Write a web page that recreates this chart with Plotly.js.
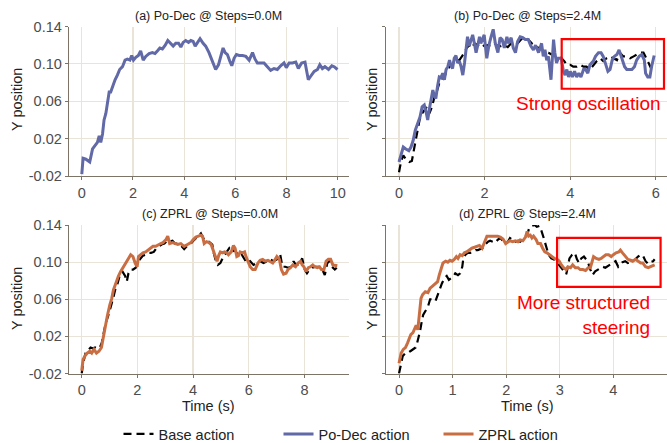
<!DOCTYPE html>
<html>
<head>
<meta charset="utf-8">
<script src="https://cdn.plot.ly/plotly-3.0.1.min.js"></script>
<style>html,body{margin:0;padding:0;background:#fff;}#chart{width:667px;height:443px;}</style>
</head>
<body>
<div id="chart"></div>
<script>
// ---------- (a) Po-Dec @ Steps=0.0M ----------
const aTime = [0,0.05,0.16,0.31,0.42,0.52,0.61,0.68,0.74,0.81,0.87,0.94,1.0,1.07,1.13,1.2,1.3,1.39,1.48,1.59,1.69,1.78,1.88,1.95,2.02,2.11,2.21,2.3,2.4,2.5,2.63,2.76,2.86,2.96,3.05,3.15,3.26,3.36,3.48,3.57,3.67,3.78,3.87,3.96,4.06,4.17,4.26,4.35,4.43,4.53,4.62,4.74,4.84,4.97,5.1,5.23,5.34,5.43,5.52,5.6,5.69,5.78,5.86,5.95,6.04,6.15,6.28,6.41,6.54,6.67,6.77,6.86,6.99,7.12,7.25,7.38,7.51,7.64,7.77,7.9,7.99,8.1,8.23,8.36,8.46,8.59,8.72,8.78,8.85,8.95,9.08,9.21,9.3,9.4,9.5,9.64,9.77,9.86,9.99];
const aPoDec = [-0.018,-0.001,-0.002,-0.005,0.009,0.013,0.016,0.023,0.016,0.025,0.040,0.047,0.058,0.070,0.070,0.076,0.083,0.088,0.094,0.097,0.104,0.105,0.104,0.109,0.104,0.107,0.109,0.114,0.104,0.108,0.111,0.112,0.111,0.114,0.117,0.116,0.120,0.125,0.122,0.119,0.122,0.122,0.118,0.123,0.125,0.123,0.125,0.124,0.119,0.123,0.127,0.122,0.119,0.112,0.103,0.094,0.099,0.108,0.117,0.112,0.110,0.103,0.098,0.106,0.110,0.109,0.109,0.108,0.104,0.112,0.105,0.101,0.101,0.101,0.097,0.093,0.095,0.094,0.098,0.101,0.096,0.101,0.101,0.102,0.095,0.101,0.102,0.094,0.083,0.087,0.092,0.094,0.099,0.095,0.097,0.094,0.098,0.097,0.094];

// ---------- (b) Po-Dec @ Steps=2.4M ----------
const bTimePoDec = [0,0.05,0.10,0.16,0.23,0.28,0.33,0.38,0.44,0.49,0.54,0.59,0.63,0.67,0.71,0.75,0.79,0.83,0.86,0.90,0.94,0.98,1.02,1.06,1.10,1.14,1.18,1.21,1.25,1.29,1.33,1.37,1.41,1.45,1.49,1.53,1.57,1.60,1.64,1.68,1.72,1.76,1.80,1.84,1.88,1.91,1.95,1.99,2.05,2.10,2.15,2.20,2.25,2.31,2.36,2.41,2.46,2.52,2.56,2.62,2.67,2.72,2.77,2.83,2.89,2.95,3.02,3.08,3.14,3.19,3.26,3.30,3.33,3.37,3.41,3.45,3.49,3.55,3.61,3.64,3.68,3.72,3.79,3.84,3.88,3.92,3.96,4.00,4.05,4.10,4.15,4.20,4.25,4.31,4.36,4.41,4.46,4.54,4.59,4.66,4.72,4.77,4.83,4.88,4.93,4.98,5.03,5.09,5.14,5.20,5.27,5.32,5.38,5.44,5.50,5.55,5.61,5.67,5.73,5.76,5.81,5.86,5.90,5.96];
const bPoDec = [-0.005,0.004,0.011,0.009,0.007,0.011,0.018,0.029,0.038,0.043,0.054,0.056,0.049,0.040,0.052,0.061,0.072,0.065,0.063,0.076,0.086,0.085,0.090,0.083,0.094,0.097,0.104,0.099,0.095,0.106,0.109,0.101,0.103,0.097,0.088,0.101,0.117,0.129,0.119,0.126,0.131,0.122,0.112,0.120,0.129,0.122,0.126,0.131,0.106,0.120,0.129,0.137,0.122,0.112,0.128,0.126,0.117,0.129,0.122,0.128,0.117,0.112,0.124,0.129,0.128,0.126,0.126,0.119,0.115,0.120,0.112,0.119,0.122,0.108,0.115,0.104,0.108,0.083,0.126,0.112,0.101,0.106,0.106,0.092,0.088,0.094,0.086,0.092,0.086,0.092,0.086,0.090,0.086,0.094,0.094,0.090,0.099,0.103,0.108,0.112,0.112,0.108,0.099,0.092,0.094,0.104,0.108,0.110,0.115,0.106,0.097,0.094,0.094,0.094,0.097,0.104,0.108,0.110,0.104,0.090,0.086,0.086,0.097,0.109];
const bTimeBase = [0,0.05,0.10,0.16,0.24,0.30,0.36,0.41,0.48,0.54,0.59,0.65,0.71,0.77,0.83,0.88,0.94,1.00,1.06,1.11,1.18,1.24,1.29,1.35,1.41,1.47,1.53,1.58,1.64,1.71,1.76,1.84,1.92,1.99,2.07,2.15,2.23,2.31,2.38,2.46,2.54,2.62,2.69,2.77,2.85,2.93,3.02,3.10,3.18,3.26,3.33,3.41,3.49,3.57,3.64,3.72,3.80,3.86,3.92,4.00,4.07,4.15,4.23,4.31,4.38,4.46,4.54,4.62,4.70,4.77,4.85,4.93,5.01,5.09,5.16,5.24,5.32,5.40,5.48,5.55,5.63,5.71,5.76,5.83,5.89];
const bBase = [-0.016,-0.004,0.002,-0.002,-0.005,-0.004,0.011,0.025,0.040,0.047,0.050,0.054,0.047,0.054,0.065,0.070,0.079,0.081,0.086,0.092,0.097,0.099,0.103,0.104,0.104,0.108,0.112,0.117,0.120,0.117,0.122,0.120,0.122,0.119,0.120,0.119,0.122,0.119,0.119,0.120,0.118,0.122,0.120,0.122,0.126,0.128,0.126,0.122,0.119,0.117,0.115,0.113,0.112,0.110,0.110,0.108,0.106,0.103,0.099,0.099,0.097,0.097,0.099,0.097,0.097,0.094,0.099,0.103,0.106,0.103,0.106,0.108,0.106,0.104,0.112,0.108,0.108,0.106,0.108,0.110,0.112,0.112,0.108,0.101,0.095];

// ---------- (c) ZPRL @ Steps=0.0M ----------
const cTimeZprl = [0,0.05,0.12,0.20,0.29,0.36,0.44,0.53,0.62,0.71,0.77,0.84,0.92,1.01,1.08,1.14,1.22,1.32,1.40,1.49,1.58,1.68,1.76,1.84,1.92,1.99,2.04,2.12,2.20,2.30,2.40,2.48,2.56,2.66,2.75,2.84,2.92,3.02,3.09,3.16,3.26,3.35,3.45,3.56,3.68,3.80,3.92,4.00,4.10,4.19,4.28,4.34,4.40,4.48,4.57,4.65,4.74,4.80,4.86,4.92,4.98,5.06,5.13,5.21,5.27,5.37,5.45,5.51,5.57,5.63,5.69,5.78,5.85,5.90,5.97,6.05,6.14,6.23,6.33,6.41,6.50,6.59,6.69,6.77,6.86,6.95,7.01,7.10,7.17,7.25,7.34,7.41,7.50,7.58,7.68,7.77,7.86,7.92,7.98,8.06,8.14,8.22,8.30,8.37,8.46,8.54,8.61,8.70,8.78,8.86,8.94,9.02,9.11,9.18];
const cZprl = [-0.017,-0.005,-0.001,0.002,0.004,0.002,0.006,0.002,0.004,0.008,0.018,0.031,0.042,0.054,0.061,0.070,0.077,0.085,0.090,0.095,0.099,0.104,0.108,0.106,0.099,0.095,0.106,0.108,0.110,0.111,0.113,0.115,0.117,0.117,0.119,0.120,0.121,0.124,0.128,0.120,0.121,0.120,0.119,0.120,0.117,0.119,0.121,0.124,0.127,0.128,0.129,0.128,0.120,0.122,0.121,0.119,0.111,0.104,0.101,0.107,0.111,0.110,0.111,0.110,0.108,0.111,0.118,0.115,0.106,0.107,0.111,0.110,0.111,0.106,0.101,0.095,0.092,0.092,0.099,0.102,0.103,0.101,0.102,0.101,0.099,0.103,0.106,0.103,0.092,0.087,0.088,0.092,0.094,0.097,0.095,0.099,0.101,0.097,0.095,0.090,0.094,0.095,0.097,0.095,0.094,0.095,0.092,0.092,0.101,0.103,0.103,0.097,0.096,0.096];
const cTimeBase = [0,0.05,0.14,0.24,0.32,0.41,0.48,0.56,0.65,0.72,0.78,0.86,0.95,1.04,1.13,1.20,1.28,1.37,1.46,1.56,1.62,1.68,1.76,1.84,1.94,2.04,2.12,2.20,2.30,2.40,2.49,2.59,2.68,2.78,2.87,2.97,3.07,3.16,3.26,3.35,3.45,3.56,3.68,3.80,3.92,4.04,4.16,4.28,4.36,4.46,4.57,4.69,4.74,4.82,4.89,4.98,5.06,5.13,5.21,5.30,5.39,5.49,5.57,5.66,5.75,5.85,5.93,6.05,6.17,6.29,6.41,6.53,6.65,6.77,6.89,7.01,7.13,7.21,7.31,7.41,7.53,7.61,7.69,7.79,7.92,8.01,8.09,8.18,8.28,8.40,8.52,8.64,8.73,8.82,8.90,8.99,9.09,9.16];
const cBase = [-0.020,-0.009,0.002,0.006,0.008,0.007,0.008,0.007,0.008,0.013,0.022,0.034,0.042,0.051,0.061,0.070,0.076,0.086,0.090,0.085,0.079,0.088,0.092,0.092,0.094,0.101,0.104,0.107,0.108,0.110,0.110,0.111,0.115,0.117,0.119,0.120,0.123,0.122,0.123,0.120,0.120,0.118,0.114,0.118,0.120,0.124,0.128,0.131,0.126,0.123,0.122,0.119,0.110,0.101,0.097,0.099,0.104,0.108,0.111,0.115,0.111,0.113,0.110,0.106,0.108,0.103,0.099,0.101,0.097,0.099,0.101,0.099,0.101,0.103,0.101,0.103,0.108,0.095,0.095,0.094,0.095,0.101,0.097,0.097,0.104,0.092,0.088,0.092,0.094,0.095,0.095,0.092,0.086,0.099,0.101,0.095,0.092,0.094];

// ---------- (d) ZPRL @ Steps=2.4M ----------
const dTimeZprl = [0,0.04,0.08,0.12,0.16,0.19,0.22,0.26,0.29,0.32,0.35,0.38,0.41,0.44,0.49,0.54,0.58,0.62,0.66,0.69,0.72,0.75,0.79,0.82,0.87,0.91,0.95,0.99,1.03,1.07,1.10,1.14,1.18,1.22,1.26,1.31,1.36,1.41,1.45,1.50,1.55,1.60,1.64,1.69,1.74,1.79,1.84,1.89,1.94,1.99,2.03,2.07,2.12,2.17,2.22,2.26,2.31,2.36,2.39,2.42,2.45,2.48,2.51,2.56,2.59,2.64,2.68,2.72,2.76,2.80,2.85,2.90,2.95,2.99,3.03,3.07,3.12,3.15,3.20,3.24,3.29,3.34,3.38,3.43,3.48,3.53,3.57,3.60,3.63,3.68,3.73,3.77,3.82,3.86,3.91,3.96,4.00,4.05,4.10,4.13,4.17,4.22,4.27,4.32,4.36,4.41,4.46,4.51,4.55,4.60,4.65,4.69,4.74,4.77];
const dZprl = [-0.009,0.002,0.006,0.008,0.013,0.018,0.022,0.024,0.029,0.032,0.027,0.049,0.061,0.065,0.068,0.067,0.072,0.074,0.076,0.078,0.079,0.086,0.094,0.099,0.101,0.100,0.102,0.101,0.103,0.106,0.104,0.108,0.107,0.110,0.111,0.113,0.115,0.116,0.117,0.118,0.115,0.122,0.128,0.128,0.128,0.128,0.128,0.127,0.125,0.120,0.122,0.123,0.122,0.123,0.122,0.124,0.123,0.127,0.133,0.128,0.129,0.126,0.128,0.124,0.120,0.120,0.115,0.111,0.110,0.108,0.106,0.104,0.103,0.101,0.097,0.094,0.092,0.095,0.094,0.097,0.094,0.094,0.092,0.092,0.091,0.094,0.094,0.099,0.106,0.104,0.103,0.104,0.106,0.108,0.108,0.106,0.108,0.110,0.111,0.113,0.110,0.106,0.103,0.102,0.101,0.103,0.101,0.099,0.099,0.095,0.094,0.095,0.096,0.097];
const dTimeBase = [0,0.03,0.07,0.12,0.16,0.21,0.26,0.31,0.33,0.36,0.39,0.43,0.45,0.49,0.54,0.58,0.63,0.68,0.72,0.77,0.80,0.85,0.89,0.93,0.97,1.02,1.05,1.10,1.14,1.18,1.20,1.24,1.28,1.33,1.38,1.43,1.47,1.51,1.56,1.61,1.66,1.70,1.75,1.80,1.84,1.89,1.94,1.99,2.03,2.07,2.12,2.17,2.22,2.26,2.31,2.36,2.40,2.43,2.48,2.53,2.57,2.62,2.65,2.70,2.73,2.76,2.79,2.84,2.89,2.93,2.98,3.03,3.07,3.12,3.15,3.18,3.23,3.28,3.32,3.36,3.40,3.45,3.49,3.53,3.57,3.61,3.66,3.71,3.76,3.80,3.85,3.90,3.94,3.99,4.04,4.09,4.13,4.17,4.22,4.27,4.32,4.36,4.41,4.46,4.51,4.55,4.60,4.65,4.69,4.74,4.77];
const dBase = [-0.020,-0.012,-0.001,0.002,0.002,0.004,0.006,0.008,0.011,0.017,0.025,0.038,0.043,0.047,0.052,0.060,0.060,0.058,0.065,0.072,0.077,0.083,0.085,0.081,0.083,0.085,0.088,0.086,0.088,0.095,0.104,0.108,0.110,0.110,0.111,0.113,0.113,0.114,0.115,0.119,0.122,0.123,0.122,0.121,0.124,0.126,0.123,0.120,0.122,0.126,0.124,0.122,0.123,0.122,0.124,0.128,0.131,0.137,0.139,0.140,0.138,0.139,0.135,0.126,0.119,0.113,0.108,0.104,0.103,0.101,0.097,0.094,0.090,0.087,0.095,0.104,0.108,0.110,0.103,0.099,0.104,0.106,0.103,0.099,0.092,0.086,0.090,0.092,0.094,0.095,0.094,0.096,0.097,0.099,0.101,0.095,0.097,0.100,0.101,0.099,0.100,0.101,0.103,0.106,0.108,0.107,0.101,0.098,0.100,0.101,0.103];

// ---------- labels ----------
const panelTitles = ["(a) Po-Dec @ Steps=0.0M", "(b) Po-Dec @ Steps=2.4M", "(c) ZPRL @ Steps=0.0M", "(d) ZPRL @ Steps=2.4M"];
const seriesNames = ["Base action", "Po-Dec action", "ZPRL action"];
const yTickVals = [-0.02, 0.02, 0.06, 0.10, 0.14];
const yTickText = ["-0.02", "0.02", "0.06", "0.10", "0.14"];
const xLabel = "Time (s)";
const yLabel = "Y position";
const note1 = "Strong oscillation";
const note2 = "More structured<br>steering";

const W = 667, H = 443;
const FONT = "Liberation Sans, Arial, sans-serif";
const BLUE = "#6169a7", ORANGE = "#c96e43", BLACK = "#000000";
const AXC = "#7d7468", GRIDC = "#e9e3d8", TICKC = "#4d4d4d";
const DASH = "8px,5px";

const px = v => v / W;
const py = v => 1 - v / H;

function line(x, y, name, color, xa, ya, dash, show, width) {
  return {x: x, y: y, name: name, type: "scatter", mode: "lines", xaxis: xa, yaxis: ya,
    line: {color: color, width: width, dash: dash || "solid"}, showlegend: show, hoverinfo: "skip"};
}

const traces = [
  line(bTimeBase, bBase, seriesNames[0], BLACK, "x2", "y2", DASH, true, 2.2),
  line(aTime, aPoDec, seriesNames[1], BLUE, "x", "y", null, true, 3),
  line(bTimePoDec, bPoDec, seriesNames[1], BLUE, "x2", "y2", null, false, 3),
  line(cTimeBase, cBase, seriesNames[0], BLACK, "x3", "y3", DASH, false, 2.2),
  line(cTimeZprl, cZprl, seriesNames[2], ORANGE, "x3", "y3", null, true, 3),
  line(dTimeBase, dBase, seriesNames[0], BLACK, "x4", "y4", DASH, false, 2.2),
  line(dTimeZprl, dZprl, seriesNames[2], ORANGE, "x4", "y4", null, false, 3)
];
const leftDom = [px(69), px(349)];
const rightDom = [px(386), 1];
const topDom = [py(176), py(26.5)];
const botDom = [py(373.5), py(225)];

function xax(dom, range, dtick, anchor) {
  return {domain: dom, range: range, dtick: dtick, tick0: 0, anchor: anchor,
    showline: true, linecolor: AXC, linewidth: 1.3, ticks: "outside", ticklen: 3, tickcolor: AXC,
    showgrid: true, gridcolor: GRIDC, gridwidth: 1.2, zeroline: false,
    tickfont: {family: FONT, size: 14.5, color: TICKC}, fixedrange: true};
}
function yax(dom, anchor, labels) {
  return {domain: dom, range: [-0.02, 0.14], tickvals: yTickVals, ticktext: yTickText, anchor: anchor,
    showline: true, linecolor: AXC, linewidth: 1.3, ticks: "outside", ticklen: 3, tickcolor: AXC,
    showgrid: true, gridcolor: GRIDC, gridwidth: 1.2, zeroline: false, showticklabels: labels,
    tickfont: {family: FONT, size: 14.5, color: TICKC}, fixedrange: true};
}

const ann = [];
const titleSpec = [[209, 16], [527, 16], [210, 214], [527, 214]];
panelTitles.forEach((t, i) => ann.push({text: t, xref: "paper", yref: "paper", x: px(titleSpec[i][0]), y: py(titleSpec[i][1]),
  xanchor: "center", yanchor: "middle", showarrow: false, font: {family: FONT, size: 12.5, color: "#222"}}));
[[17, 100], [372, 100], [17, 299], [372, 299]].forEach(p => ann.push({text: yLabel, textangle: -90, xref: "paper", yref: "paper",
  x: px(p[0]), y: py(p[1]), xanchor: "center", yanchor: "middle", showarrow: false, font: {family: FONT, size: 14.5, color: "#222"}}));
[[209, 406], [527, 406]].forEach(p => ann.push({text: xLabel, xref: "paper", yref: "paper", x: px(p[0]), y: py(p[1]),
  xanchor: "center", yanchor: "middle", showarrow: false, borderpad: 0, font: {family: FONT, size: 14.5, color: "#222"}}));
ann.push({text: note1, xref: "x2", yref: "y2", x: 6.16, y: 0.058, xanchor: "right", yanchor: "middle", showarrow: false,
  font: {family: FONT, size: 19, color: "#ff0000"}});
ann.push({text: note2, xref: "x4", yref: "y4", x: 4.72, y: 0.0426, xanchor: "right", yanchor: "middle", align: "right", showarrow: false,
  font: {family: FONT, size: 19, color: "#ff0000"}});

const shapes = [
  {type: "rect", xref: "x2", yref: "y2", x0: 3.80, x1: 6.19, y0: 0.0734, y1: 0.1265, line: {color: "#ff0000", width: 2.2}},
  {type: "rect", xref: "x4", yref: "y4", x0: 2.95, x1: 4.88, y0: 0.0733, y1: 0.1262, line: {color: "#ff0000", width: 2.2}}
];

const layout = {
  width: W, height: H, margin: {l: 0, r: 0, t: 0, b: 0, autoexpand: false},
  paper_bgcolor: "#fff", plot_bgcolor: "#fff",
  font: {family: FONT, color: "#222"},
  xaxis: xax(leftDom, [-0.5, 10.44], 2, "y"),
  yaxis: yax(topDom, "x", true),
  xaxis2: xax(rightDom, [-0.304, 6.26], 2, "y2"),
  yaxis2: yax(topDom, "x2", false),
  xaxis3: xax(leftDom, [-0.456, 9.60], 2, "y3"),
  yaxis3: yax(botDom, "x3", true),
  xaxis4: xax(rightDom, [-0.243, 5.0], 1, "y4"),
  yaxis4: yax(botDom, "x4", false),
  annotations: ann, shapes: shapes,
  showlegend: true,
  legend: {orientation: "h", x: 0.5 + 25 / W, xanchor: "center", y: py(434), yanchor: "middle",
    font: {family: FONT, size: 14.5, color: "#222"}, bgcolor: "rgba(0,0,0,0)", itemwidth: 30, traceorder: "normal",
    entrywidth: 115, entrywidthmode: "pixels"}
};

Plotly.newPlot("chart", traces, layout, {displayModeBar: false, staticPlot: true});
</script>
</body>
</html>
